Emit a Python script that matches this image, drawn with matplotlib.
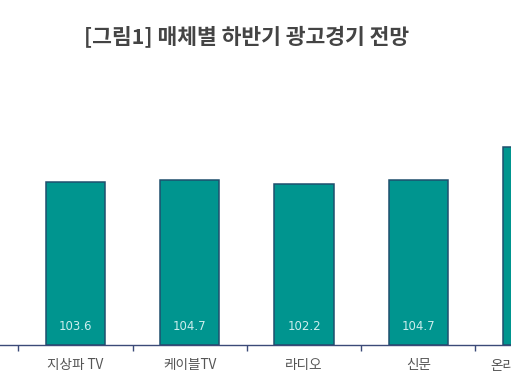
import matplotlib.pyplot as plt
import numpy as np

plt.rcParams['font.family'] = ['Noto Sans CJK KR', 'DejaVu Sans']

categories = ['지상파 TV', '케이블TV', '라디오', '신문', '온라인(인터넷)']
values = [103.6, 104.7, 102.2, 104.7, 125.3]
# only the first four value labels are in the visible part of the picture
value_labels = ['103.6', '104.7', '102.2', '104.7']

bar_color = '#00958f'
edge_color = '#1f4f6e'
axis_color = '#3b4a78'

fig = plt.figure(figsize=(5.11, 3.87), dpi=100)
ax = fig.add_axes([0, (387 - 345) / 387, 1, 0.685])

x = np.arange(len(categories))
ax.bar(x, values, width=0.52, color=bar_color, edgecolor=edge_color, linewidth=1.1, zorder=2)

for xi, lab in zip(x, value_labels):
    ax.text(xi, 11.5, lab, ha='center', va='center', color='#cdeeed',
            fontsize=8.5, family=['Liberation Sans Narrow', 'DejaVu Sans'], zorder=3)

for s in ['top', 'right', 'left']:
    ax.spines[s].set_visible(False)
ax.spines['bottom'].set_color(axis_color)
ax.spines['bottom'].set_linewidth(1.0)

ax.set_yticks([])
ax.set_xticks([])
ax.set_xticks(np.arange(-0.5, len(categories), 1), minor=True)
ax.tick_params(axis='x', which='minor', length=4, color=axis_color, width=1.0)

# category names as texts so the last one can run off the edge
for xi, name in zip(x, categories):
    ax.text(xi, -0.05, name, transform=ax.get_xaxis_transform(), ha='center', va='top',
            fontsize=9.8, color='#555555', clip_on=False)

# view limits last, set_xticks would widen them
ax.set_xlim(-0.661, 3.812)
ax.set_ylim(0, 168)

fig.text(0.482, 1 - 37 / 387, '[그림1] 매체별 하반기 광고경기 전망', ha='center', va='center',
         fontsize=15.5, fontweight='bold', color='#444444')

fig.savefig('out.png', dpi=100)
